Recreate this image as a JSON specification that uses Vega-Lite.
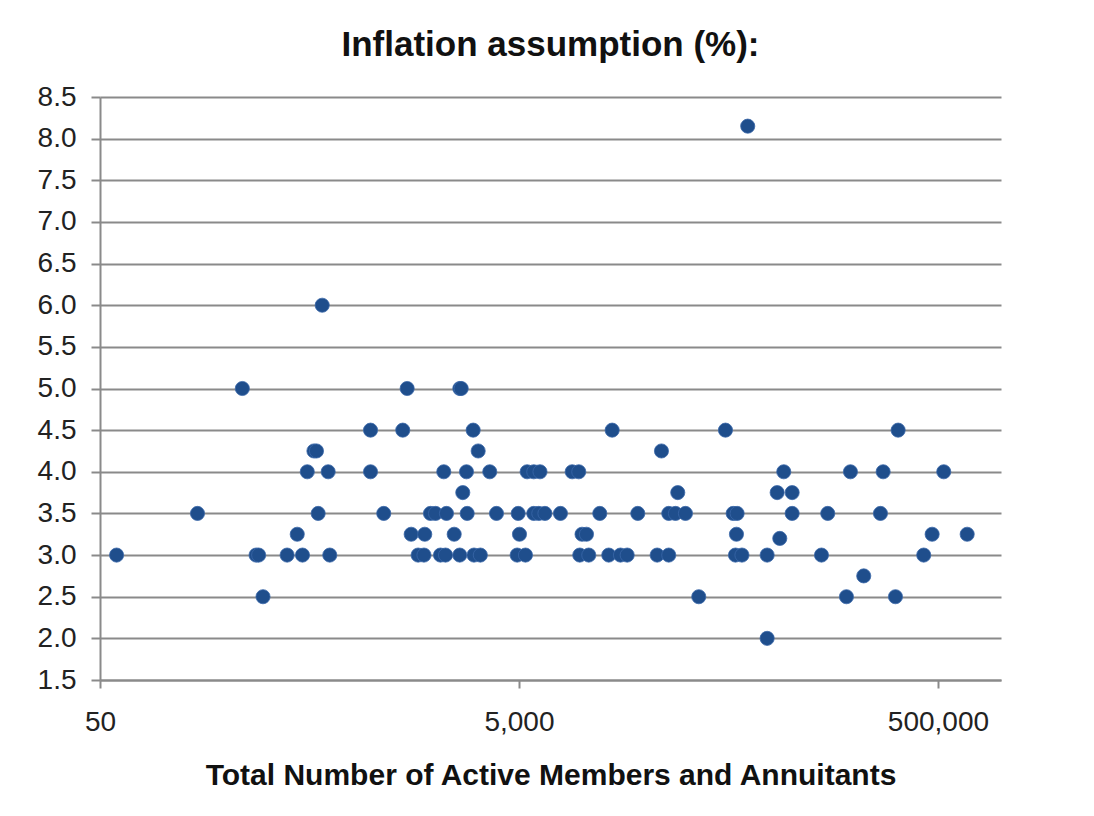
{
  "$schema": "https://vega.github.io/schema/vega-lite/v6.json",
  "autosize": "none",
  "width": 901,
  "height": 583,
  "padding": {"left": 100, "top": 97, "right": 93, "bottom": 136},
  "background": "white",
  "title": {
    "text": "Inflation assumption (%):",
    "font": "Liberation Sans",
    "fontSize": 35,
    "fontWeight": "bold",
    "color": "#111111",
    "anchor": "middle",
    "offset": 20
  },
  "data": {
    "values": [
      {"members": 61800, "inflation": 8.15},
      {"members": 575, "inflation": 6.0},
      {"members": 239, "inflation": 5.0},
      {"members": 1463, "inflation": 5.0},
      {"members": 2610, "inflation": 5.0},
      {"members": 2650, "inflation": 5.0},
      {"members": 978, "inflation": 4.5},
      {"members": 1394, "inflation": 4.5},
      {"members": 3022, "inflation": 4.5},
      {"members": 13925, "inflation": 4.5},
      {"members": 48380, "inflation": 4.5},
      {"members": 322800, "inflation": 4.5},
      {"members": 525, "inflation": 4.25},
      {"members": 540, "inflation": 4.25},
      {"members": 3193, "inflation": 4.25},
      {"members": 23940, "inflation": 4.25},
      {"members": 488, "inflation": 4.0},
      {"members": 614, "inflation": 4.0},
      {"members": 978, "inflation": 4.0},
      {"members": 2188, "inflation": 4.0},
      {"members": 2808, "inflation": 4.0},
      {"members": 3627, "inflation": 4.0},
      {"members": 5470, "inflation": 4.0},
      {"members": 5884, "inflation": 4.0},
      {"members": 6300, "inflation": 4.0},
      {"members": 8974, "inflation": 4.0},
      {"members": 9648, "inflation": 4.0},
      {"members": 91840, "inflation": 4.0},
      {"members": 191100, "inflation": 4.0},
      {"members": 273800, "inflation": 4.0},
      {"members": 533000, "inflation": 4.0},
      {"members": 2696, "inflation": 3.75},
      {"members": 28640, "inflation": 3.75},
      {"members": 85400, "inflation": 3.75},
      {"members": 100700, "inflation": 3.75},
      {"members": 146, "inflation": 3.5},
      {"members": 550, "inflation": 3.5},
      {"members": 1131, "inflation": 3.5},
      {"members": 1890, "inflation": 3.5},
      {"members": 1998, "inflation": 3.5},
      {"members": 2254, "inflation": 3.5},
      {"members": 2830, "inflation": 3.5},
      {"members": 3905, "inflation": 3.5},
      {"members": 4956, "inflation": 3.5},
      {"members": 5884, "inflation": 3.5},
      {"members": 6216, "inflation": 3.5},
      {"members": 6650, "inflation": 3.5},
      {"members": 7888, "inflation": 3.5},
      {"members": 12155, "inflation": 3.5},
      {"members": 18455, "inflation": 3.5},
      {"members": 25940, "inflation": 3.5},
      {"members": 27925, "inflation": 3.5},
      {"members": 31165, "inflation": 3.5},
      {"members": 52640, "inflation": 3.5},
      {"members": 55000, "inflation": 3.5},
      {"members": 100700, "inflation": 3.5},
      {"members": 148900, "inflation": 3.5},
      {"members": 265800, "inflation": 3.5},
      {"members": 437, "inflation": 3.25},
      {"members": 1529, "inflation": 3.25},
      {"members": 1775, "inflation": 3.25},
      {"members": 2453, "inflation": 3.25},
      {"members": 5028, "inflation": 3.25},
      {"members": 10000, "inflation": 3.25},
      {"members": 10500, "inflation": 3.25},
      {"members": 54600, "inflation": 3.25},
      {"members": 469100, "inflation": 3.25},
      {"members": 689500, "inflation": 3.25},
      {"members": 87900, "inflation": 3.2},
      {"members": 60, "inflation": 3.0},
      {"members": 278, "inflation": 3.0},
      {"members": 286, "inflation": 3.0},
      {"members": 391, "inflation": 3.0},
      {"members": 463, "inflation": 3.0},
      {"members": 625, "inflation": 3.0},
      {"members": 1650, "inflation": 3.0},
      {"members": 1760, "inflation": 3.0},
      {"members": 2110, "inflation": 3.0},
      {"members": 2230, "inflation": 3.0},
      {"members": 2608, "inflation": 3.0},
      {"members": 3050, "inflation": 3.0},
      {"members": 3270, "inflation": 3.0},
      {"members": 4901, "inflation": 3.0},
      {"members": 5370, "inflation": 3.0},
      {"members": 9755, "inflation": 3.0},
      {"members": 10770, "inflation": 3.0},
      {"members": 13415, "inflation": 3.0},
      {"members": 15255, "inflation": 3.0},
      {"members": 16425, "inflation": 3.0},
      {"members": 22835, "inflation": 3.0},
      {"members": 25940, "inflation": 3.0},
      {"members": 54000, "inflation": 3.0},
      {"members": 58000, "inflation": 3.0},
      {"members": 76500, "inflation": 3.0},
      {"members": 139000, "inflation": 3.0},
      {"members": 427700, "inflation": 3.0},
      {"members": 221200, "inflation": 2.75},
      {"members": 300, "inflation": 2.5},
      {"members": 36080, "inflation": 2.5},
      {"members": 182900, "inflation": 2.5},
      {"members": 313500, "inflation": 2.5},
      {"members": 76500, "inflation": 2.0}
    ]
  },
  "mark": {"type": "point", "filled": true, "size": 200, "color": "#1F4E8C", "opacity": 1, "stroke": "#3A67A8", "strokeWidth": 0.8},
  "encoding": {
    "x": {
      "field": "members",
      "type": "quantitative",
      "scale": {"type": "log", "domain": [50, 1000000], "nice": false},
      "axis": {
        "title": "Total Number of Active Members and Annuitants",
        "values": [50, 5000, 500000],
        "format": ",d",
        "grid": false,
        "tickSize": 8,
        "labelPadding": 20,
        "titlePadding": 24,
        "labelFlush": false,
        "labelOverlap": false
      }
    },
    "y": {
      "field": "inflation",
      "type": "quantitative",
      "scale": {"domain": [1.5, 8.5], "nice": false, "zero": false},
      "axis": {
        "title": null,
        "values": [1.5, 2.0, 2.5, 3.0, 3.5, 4.0, 4.5, 5.0, 5.5, 6.0, 6.5, 7.0, 7.5, 8.0, 8.5],
        "format": ".1f",
        "tickSize": 9,
        "labelPadding": 15,
        "labelOverlap": false
      }
    }
  },
  "config": {
    "view": {"stroke": null},
    "axis": {
      "labelFont": "Liberation Sans",
      "labelFontSize": 28,
      "labelColor": "#222222",
      "titleFont": "Liberation Sans",
      "titleFontSize": 30,
      "titleFontWeight": "bold",
      "titleColor": "#111111",
      "domainColor": "#8a8a8a",
      "domainWidth": 2,
      "tickColor": "#8a8a8a",
      "tickWidth": 2,
      "gridColor": "#8a8a8a",
      "gridWidth": 2
    }
  }
}
